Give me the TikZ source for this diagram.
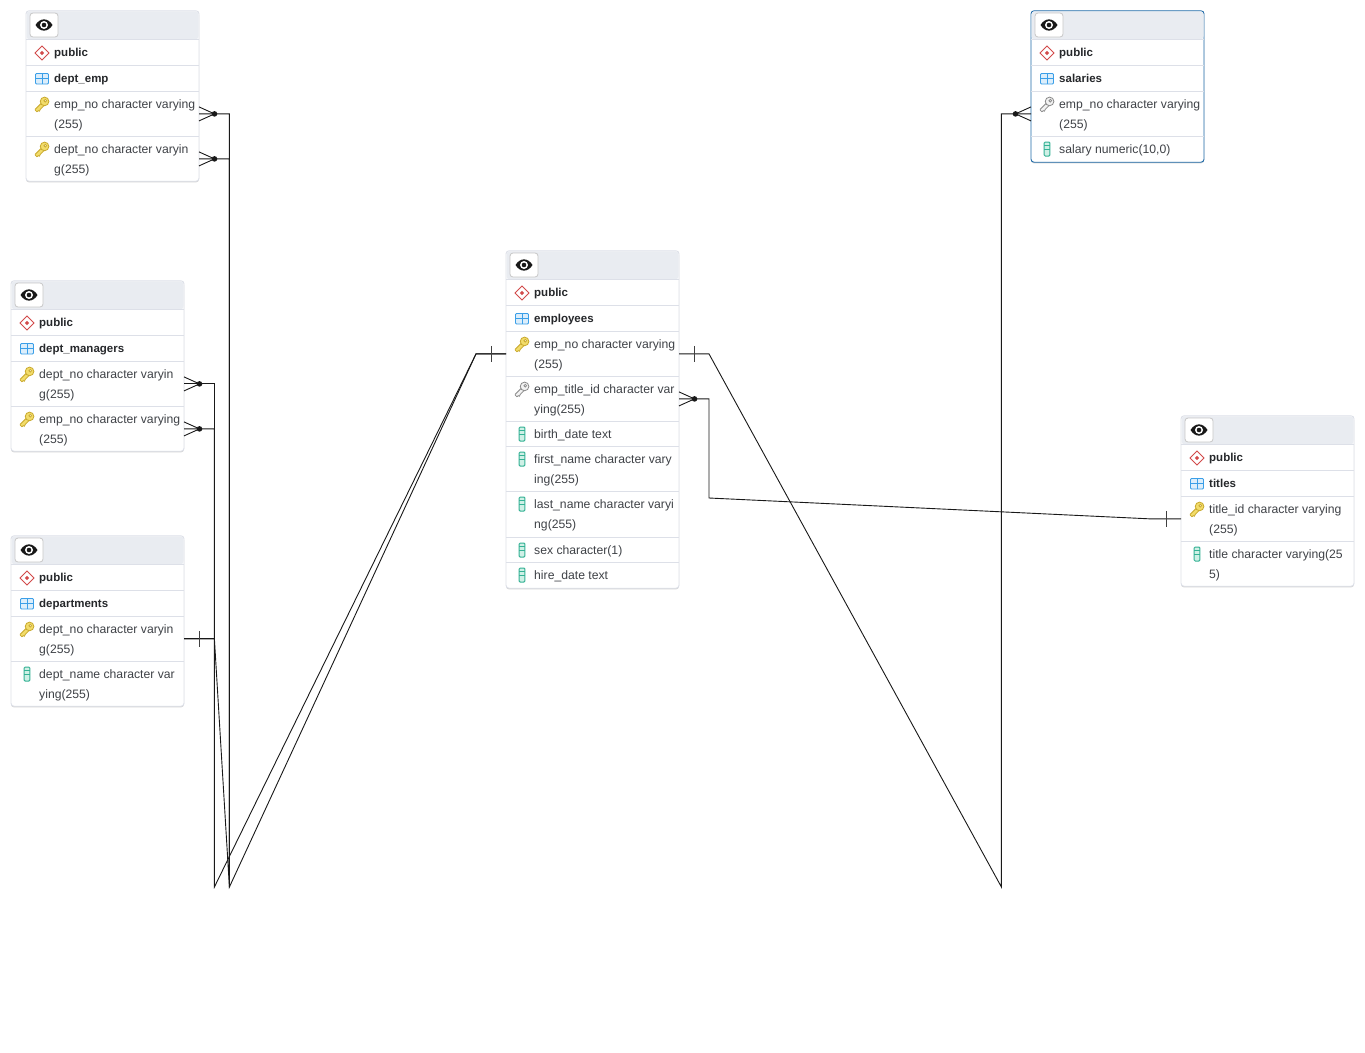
\documentclass[tikz,border=0pt]{standalone}
\usepackage{fontspec}
\setmainfont{Liberation Sans}
\usetikzlibrary{calc}
\definecolor{edge}{HTML}{DDE0E8}
\definecolor{headbg}{HTML}{E9ECF1}
\definecolor{ink}{HTML}{3F4247}
\definecolor{ink2}{HTML}{26282B}
\definecolor{selblue}{HTML}{1F6AA8}
\definecolor{keyyellow}{HTML}{F2DC6A}
\definecolor{keystroke}{HTML}{C9A92E}
\definecolor{keygray}{HTML}{F2F2F2}
\definecolor{keygraystroke}{HTML}{8A8A8A}
\definecolor{colstroke}{HTML}{35B295}
\definecolor{colfill}{HTML}{CFF0E6}
\definecolor{tabstroke}{HTML}{3B9FE8}
\definecolor{tabfill}{HTML}{DCEEFB}
\definecolor{schemared}{HTML}{D24A4A}
\tikzset{
  x=1pt,y=-1pt,
  rowbox/.style={minimum width=173pt,minimum height=#1,inner sep=0pt,outer sep=0pt,anchor=north west},
  fieldtext/.style={anchor=west,inner sep=0pt,align=left,text=ink,font=\fontsize{12.2}{20}\selectfont},
  headtext/.style={anchor=base west,inner sep=0pt,text=ink2,font=\fontsize{11.5}{14}\selectfont\bfseries},
  sepline/.style={draw=edge,line width=0.9pt},
  conn/.style={draw=black!90,line width=0.9pt},
  pics/pkkey/.style 2 args={code={
    \begin{scope}[scale=1.03,line width=0.8pt,draw=#2,fill=#1]
      \path[draw,fill] (-6.5,6) -- (-5,7.5) -- (-3.5,6.5) -- (-2.5,7) -- (-1.5,5) -- (2,1.5) -- (-0.5,-1) -- (-6.5,5) -- cycle;
      \path[draw,fill] (2.5,-2.5) circle (4.2);
      \path[draw,fill=white] (3.2,-3.2) circle (1.3);
    \end{scope}}},
  pics/colicon/.style={code={
    \draw[draw=colstroke,line width=1pt,fill=colfill,rounded corners=1] (-2.8,-7) rectangle (2.8,7);
    \draw[draw=colstroke,line width=0.8pt] (-2.8,-3.5) -- (2.8,-3.5) (-2.8,0) -- (2.8,0);}},
  pics/schemaicon/.style={code={
    \draw[draw=schemared,line width=0.9pt,fill=white] (0,-7) -- (7,0) -- (0,7) -- (-7,0) -- cycle;
    \fill[schemared] (0,-2.2) -- (2.2,0) -- (0,2.2) -- (-2.2,0) -- cycle;}},
  pics/tableicon/.style={code={
    \draw[draw=tabstroke,line width=0.9pt,fill=tabfill,rounded corners=1] (-6.5,-5) rectangle (6.5,5.5);
    \draw[draw=tabstroke,line width=0.7pt] (-6.5,0) -- (6.5,0) (0,-5) -- (0,5.5);}},
  pics/eyeicon/.style={code={
    \fill[black!90] (-8.5,0) .. controls (-4,-7.5) and (4,-7.5) .. (8.5,0) .. controls (4,7.5) and (-4,7.5) .. (-8.5,0) -- cycle;
    \fill[white] (0,0) circle (4);
    \fill[black!90] (0,0) circle (2.3);}},
  pics/crowfoot/.style={code={
    \draw[conn] (0,-7) -- (15.5,0) (0,7) -- (15.5,0);
    \fill[black!90] (15.5,0) circle (2.8);}},
  pics/onebar/.style={code={
    \draw[draw=black!75,line width=1pt] (0,-8) -- (0,8);}},
}
% id x y totalheight bordercolor
\newcommand{\erdbox}[5]{%
  \fill[rounded corners=3pt,black!16] (#2,#3+1) rectangle (#2+173,#3+#4+0.4);
  \node[rowbox=#4 pt-0.6pt,draw=#5,fill=white,rounded corners=3pt,line width=0.9pt] (#1) at (#2,#3-0.2) {};
  \fill[headbg,rounded corners=3pt] (#2+0.5,#3+28.4) -- (#2+0.5,#3+0.3) -- (#2+172.5,#3+0.3) -- (#2+172.5,#3+28.4) -- cycle;
  \node[rowbox=24pt,minimum width=28pt,draw=black!22,fill=white,rounded corners=3pt,line width=0.8pt,anchor=north west] (#1btn) at (#2+4,#3+2) {};
  \pic at (#1btn.center) {eyeicon};
}
% id x y schema table
\newcommand{\erdhead}[5]{%
  \node[rowbox=26pt] (#1s) at (#2,#3+28.4) {};
  \node[rowbox=26pt] (#1t) at (#2,#3+54.4) {};
  \draw[sepline] (#1s.north west) -- (#1s.north east);
  \draw[sepline] (#1t.north west) -- (#1t.north east);
  \pic at (#2+16,#3+42) {schemaicon};
  \pic at (#2+16,#3+67.5) {tableicon};
  \node[headtext] (#1sl) at (#2+28,#3+45.5) {#4};
  \node[headtext] (#1tl) at (#2+28,#3+71.5) {#5};
}
% id x ytop height icon text
\newcommand{\fieldrow}[6]{%
  \node[rowbox=#4 pt] (#1) at (#2,#3-0.6) {};
  \draw[sepline] (#1.north west) -- (#1.north east);
  \pic at (#2+16,#3+12) {#5};
  \node[fieldtext] (#1l) at (#2+28,#3+#4/2+0.8) {\rule{0pt}{9pt}#6\rule[-3pt]{0pt}{3pt}};
}
\begin{document}
\begin{tikzpicture}
\useasboundingbox (0,0) rectangle (1365,1052);
\fill[white] (0,0) rectangle (1365,1052);

% dept_emp
\erdbox{de}{26}{11}{171}{edge}
\erdhead{de}{26}{11}{public}{dept\_emp}
\fieldrow{deA}{26}{92}{45}{pkkey={keyyellow}{keystroke}}{emp\_no character varying\\(255)}
\fieldrow{deB}{26}{137}{45}{pkkey={keyyellow}{keystroke}}{dept\_no character varyin\\g(255)}

% dept_managers
\erdbox{dm}{11}{281}{171}{edge}
\erdhead{dm}{11}{281}{public}{dept\_managers}
\fieldrow{dmA}{11}{362}{45}{pkkey={keyyellow}{keystroke}}{dept\_no character varyin\\g(255)}
\fieldrow{dmB}{11}{407}{45}{pkkey={keyyellow}{keystroke}}{emp\_no character varying\\(255)}

% departments
\erdbox{dp}{11}{536}{171}{edge}
\erdhead{dp}{11}{536}{public}{departments}
\fieldrow{dpA}{11}{617}{45}{pkkey={keyyellow}{keystroke}}{dept\_no character varyin\\g(255)}
\fieldrow{dpB}{11}{662}{45}{colicon}{dept\_name character var\\ying(255)}

% employees
\erdbox{em}{506}{251}{338}{edge}
\erdhead{em}{506}{251}{public}{employees}
\fieldrow{emA}{506}{332}{45}{pkkey={keyyellow}{keystroke}}{emp\_no character varying\\(255)}
\fieldrow{emB}{506}{377}{45}{pkkey={keygray}{keygraystroke}}{emp\_title\_id character var\\ying(255)}
\fieldrow{emC}{506}{422}{25}{colicon}{birth\_date text}
\fieldrow{emD}{506}{447}{45}{colicon}{first\_name character vary\\ing(255)}
\fieldrow{emE}{506}{492}{46}{colicon}{last\_name character varyi\\ng(255)}
\fieldrow{emF}{506}{538}{25}{colicon}{sex character(1)}
\fieldrow{emG}{506}{563}{26}{colicon}{hire\_date text}

% salaries
\erdbox{sa}{1031}{11}{152}{selblue}
\erdhead{sa}{1031}{11}{public}{salaries}
\fieldrow{saA}{1031}{92}{45}{pkkey={keygray}{keygraystroke}}{emp\_no character varying\\(255)}
\fieldrow{saB}{1031}{137}{26}{colicon}{salary numeric(10,0)}

% titles
\erdbox{ti}{1181}{416}{171}{edge}
\erdhead{ti}{1181}{416}{public}{titles}
\fieldrow{tiA}{1181}{497}{45}{pkkey={keyyellow}{keystroke}}{title\_id character varying\\(255)}
\fieldrow{tiB}{1181}{542}{45}{colicon}{title character varying(25\\5)}

% routing points
\coordinate (busA) at (229.4,887);
\coordinate (busB) at (214.4,887);
\coordinate (busC) at (1001.4,887);
\coordinate (bendL) at ($(emA.west)+(-30,0)$);
\coordinate (bendR) at ($(emA.east)+(30,0)$);
\coordinate (bendT1) at ($(emB.east)+(30,0)$);
\coordinate (bendT2) at (bendT1 |- 0,498);
\coordinate (bendT3) at ($(tiA.west)+(-30,0)$);
\coordinate (bendD) at ($(dpA.east)+(30.4,0)$);

% connectors
\draw[conn] (deA.east) -- (deA.east -| busA) -- (busA) -- (bendL) -- (emA.west);
\draw[conn] (deB.east) -- (deB.east -| busA) -- (busA) -- (bendD) -- (dpA.east);
\draw[conn] (dmA.east) -- (dmA.east -| busB) -- (bendD) -- (dpA.east);
\draw[conn] (dmB.east) -- (dmB.east -| busB) -- (busB) -- (bendL) -- (emA.west);
\draw[conn] (saA.west) -- (saA.west -| busC) -- (busC) -- (bendR) -- (emA.east);
\draw[conn] (emB.east) -- (bendT1) -- (bendT2) -- (bendT3) -- (tiA.west);

% ends
\pic at (deA.east) {crowfoot};
\pic at (deB.east) {crowfoot};
\pic at (dmA.east) {crowfoot};
\pic at (dmB.east) {crowfoot};
\pic[xscale=-1] at (saA.west) {crowfoot};
\pic at (emB.east) {crowfoot};
\pic at ($(emA.west)+(-15,0)$) {onebar};
\pic at ($(emA.east)+(15,0)$) {onebar};
\pic at ($(dpA.east)+(15,0)$) {onebar};
\pic at ($(tiA.west)+(-15,0)$) {onebar};
\end{tikzpicture}
\end{document}
